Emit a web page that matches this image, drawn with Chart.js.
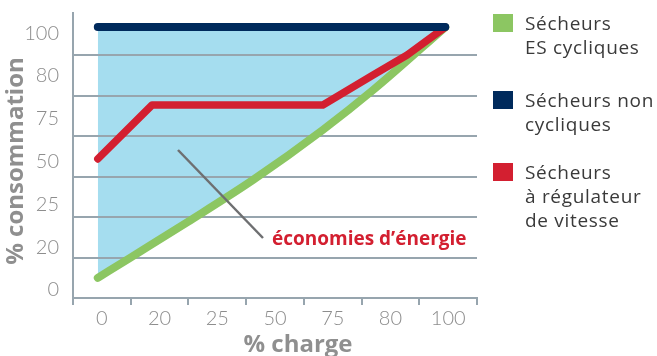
<!DOCTYPE html>
<html>
<head>
<meta charset="utf-8">
<script src="https://cdn.jsdelivr.net/npm/chart.js@4.4.1/dist/chart.umd.min.js"></script>
<style>
  html, body { margin: 0; padding: 0; background: #fff; }
  #wrap { position: relative; width: 657px; height: 356px; overflow: hidden; }
  #chart { position: absolute; left: 0; top: 0; }
  .leg { position: absolute; left: 493px; font-family: "Open Sans", sans-serif; font-size: 19px; line-height: 24px; color: #3a3a3a; letter-spacing: 0.7px; }
  .leg .sw { position: absolute; left: 0; top: 3px; width: 20px; height: 18px; }
  .leg .tx { margin-left: 32px; white-space: nowrap; }
</style>
</head>
<body>
<div id="wrap">
  <canvas id="chart" width="657" height="356"></canvas>
  <div id="legend"></div>
</div>
<script>
// tick labels (evenly spaced on both axes, as in the picture)
const xTickLabels = ['0', '20', '25', '50', '75', '80', '100'];
const yTickLabels = ['0', '20', '25', '50', '75', '80', '100'];

// series, x and y in tick-position units
const seriesNames = ['Sécheurs\nES cycliques', 'Sécheurs non\ncycliques', 'Sécheurs\nà régulateur\nde vitesse'];
const seriesColors = ['#8cc662', '#002a5c', '#d31f30'];

const chargeES = [0.43, 0.99, 1.99, 3.12, 4.33, 5.2, 6.45];
const consoES = [0.28, 0.75, 1.59, 2.57, 3.74, 4.67, 6.14];

const chargeNonCycl = [0.43, 6.45];
const consoNonCycl = [6.14, 6.14];

const chargeVitesse = [0.43, 1.37, 4.33, 5.2, 5.79, 6.45];
const consoVitesse = [3.06, 4.32, 4.32, 5.02, 5.49, 6.14];

const gridColor = '#97a5ae';
const tickColor = '#8d8d8d';
const titleColor = '#8f8f8f';

function pts(xs, ys) {
    return xs.map((x, i) => ({ x: x, y: ys[i] }));
}

// no extra space around the axes, the plot box is fixed by layout.padding
function noPad(s) {
    s.paddingTop = 0;
    s.paddingBottom = 0;
    s.paddingLeft = 0;
    s.paddingRight = 0;
}

// html legend
const legendTops = [11, 88, 160];
const legend = document.getElementById('legend');
seriesNames.forEach((name, i) => {
    const d = document.createElement('div');
    d.className = 'leg';
    d.style.top = legendTops[i] + 'px';
    d.innerHTML = '<div class="sw" style="background:' + seriesColors[i] + '"></div><div class="tx">' + name.split('\n').join('<br>') + '</div>';
    legend.appendChild(d);
});

// annotation + axis titles
const extras = {
    id: 'extras',
    afterDraw(chart) {
        const ctx = chart.ctx;
        ctx.save();
        ctx.strokeStyle = '#6e6f71';
        ctx.lineWidth = 2.5;
        ctx.beginPath();
        ctx.moveTo(178, 150);
        ctx.lineTo(263, 238);
        ctx.stroke();

        ctx.fillStyle = '#d31f30';
        ctx.font = 'bold 19px "Open Sans"';
        ctx.textBaseline = 'middle';
        ctx.textAlign = 'left';
        ctx.fillText('économies d’énergie', 272, 240);

        ctx.fillStyle = titleColor;
        ctx.font = 'bold 24px "Open Sans"';
        ctx.textAlign = 'center';
        ctx.fillText('% charge', 298, 345);

        ctx.translate(16, 161);
        ctx.rotate(-Math.PI / 2);
        ctx.fillText('% consommation', 0, 0);
        ctx.restore();
    }
};

new Chart(document.getElementById('chart'), {
    type: 'line',
    data: {
        datasets: [
            {
                label: seriesNames[1],
                data: pts(chargeNonCycl, consoNonCycl),
                borderColor: seriesColors[1],
                borderWidth: 8,
                backgroundColor: '#a5ddef',
                fill: 2
            },
            {
                label: seriesNames[2],
                data: pts(chargeVitesse, consoVitesse),
                borderColor: seriesColors[2],
                borderWidth: 7.5,
                fill: false
            },
            {
                label: seriesNames[0],
                data: pts(chargeES, consoES),
                borderColor: seriesColors[0],
                borderWidth: 8,
                cubicInterpolationMode: 'monotone',
                fill: false
            }
        ]
    },
    options: {
        responsive: false,
        animation: false,
        layout: { autoPadding: false, padding: { left: 0, right: 180, top: 13, bottom: 0 } },
        elements: {
            point: { radius: 0 },
            line: { borderCapStyle: 'round', borderJoinStyle: 'round' }
        },
        plugins: {
            legend: { display: false },
            tooltip: { enabled: false },
            filler: { drawTime: 'beforeDraw' }
        },
        scales: {
            x: {
                type: 'linear',
                min: 0,
                max: 7,
                afterBuildTicks: s => { s.ticks = [0, 1, 2, 3, 4, 5, 6, 7].map(v => ({ value: v })); },
                afterFit: s => { s.height = 58; noPad(s); },
                grid: { drawOnChartArea: false, color: gridColor, lineWidth: 2, tickLength: 7 },
                border: { color: gridColor, width: 2 },
                ticks: {
                    color: tickColor,
                    font: { family: 'Lato', size: 20, weight: '300' },
                    padding: 2,
                    maxRotation: 0,
                    autoSkip: false,
                    labelOffset: 28.9,
                    callback: v => xTickLabels[v] !== undefined ? xTickLabels[v] : ''
                }
            },
            y: {
                type: 'linear',
                position: 'left',
                min: -0.19,
                max: 6.47,
                afterBuildTicks: s => { s.ticks = [0, 1, 2, 3, 4, 5, 6].map(v => ({ value: v })); },
                afterFit: s => { s.width = 73; noPad(s); },
                grid: { display: false },
                border: { color: gridColor, width: 2 },
                ticks: {
                    color: tickColor,
                    font: { family: 'Lato', size: 20, weight: '300' },
                    padding: 6,
                    callback: v => yTickLabels[v]
                }
            },
            yg: {
                type: 'linear',
                position: 'right',
                min: 0,
                max: 7.04,
                afterBuildTicks: s => { s.ticks = [0, 1, 2, 3, 4, 5, 6].map(v => ({ value: v })); },
                afterFit: s => { s.width = 0; noPad(s); },
                grid: { color: gridColor, lineWidth: 2, drawTicks: false },
                border: { display: false },
                ticks: { display: false }
            }
        }
    },
    plugins: [extras]
});
</script>
</body>
</html>
